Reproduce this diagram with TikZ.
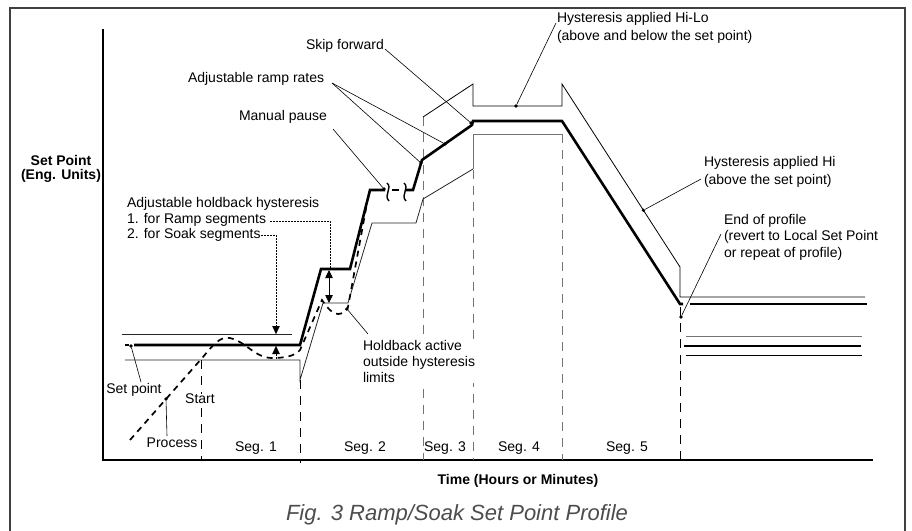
\documentclass[tikz,border=0pt]{standalone}
\usepackage{fontspec}
\setmainfont{Liberation Sans}
\usetikzlibrary{arrows.meta,calc}
\begin{document}
\begin{tikzpicture}[x=1pt,y=-1pt,
 every node/.style={inner sep=0pt, outer sep=0pt},
 lbl/.style={font=\fontsize{14}{16.5}\selectfont, align=left},
 blbl/.style={font=\fontsize{14}{14.5}\selectfont\bfseries, align=center},
 sp/.style={line width=2.6pt},
 hy/.style={line width=0.8pt},
 segb/.style={line width=1pt, dash pattern=on 9pt off 7pt},
 proc/.style={line width=1.7pt, dash pattern=on 6pt off 5pt},
 leader/.style={line width=0.6pt},
 dotm/.style={circle, fill, minimum size=3.6pt},
 hbd/.style={line width=0.8pt, dash pattern=on 1.6pt off 1.4pt},
 tip/.style={-{Triangle[length=8pt,width=7.5pt]}},
 dtip/.style={{Triangle[length=8pt,width=7.5pt]}-{Triangle[length=8pt,width=7.5pt]}},
]
\useasboundingbox (0,0) rectangle (912,530);
% frame
\draw[line width=1.2pt, black!75] (10,531) -- (10,8) -- (905,8) -- (905,531);
% axes
\draw[line width=2pt] (103,29) -- (103,460) -- (873,460);
% segment boundaries
\draw[segb] (201,360) -- (201,460);
\draw[segb] (300,380) -- (300,463);
\draw[segb, black!55] (423,117) -- (423,460);
\draw[segb, black!55] (473,170) -- (473,460);
\draw[segb, black!55] (562,134) -- (562,460);
\draw[segb] (680,307) -- (680,463);
% hysteresis lines
\draw[hy, black!85] (122,334) -- (292,334);
\draw[hy, black!85] (125,360) -- (300,360) -- (300,380) -- (323,303) -- (348,303) -- (372,223) -- (416,223) -- (423,199) -- (473,169);
\draw[hy, black!55] (473,169) -- (473,134) -- (562,134);
\draw[hy] (423,117) -- (473,84) -- (473,106) -- (562,106) -- (562,84) -- (680,267) -- (680,297) -- (865,297);
% set point profile
\draw[sp] (125,345) -- (129,345);
\draw[sp] (134,345) -- (300,345) -- (321,269) -- (350,269) -- (370,190) -- (385,190);
\draw[sp] (392,190) -- (399,190);
\draw[sp] (406,190) -- (413,190) -- (422,160) -- (472,125) -- (473,121) -- (562,121) -- (680,304) -- (683,304);
\draw[sp] (690,304) -- (867,304);
\draw[line width=1.4pt] (387,183) .. controls (393,188) and (383,195) .. (389,201);
\draw[line width=1.4pt] (404,183) .. controls (410,188) and (400,195) .. (406,201);
% local set point
\draw[hy, black!55] (686,336) -- (862,336);
\draw[sp] (684,346) -- (861,346);
\draw[hy] (686,355) -- (862,355);
% process
\draw[proc] (130,440) -- (203,357) .. controls (213,345) and (220,336) .. (230,338)
  .. controls (245,341) and (255,358) .. (272,358) .. controls (285,358) and (295,356) .. (300,350)
  -- (322,300) .. controls (328,309) and (333,314) .. (338,314) .. controls (342,314) and (345,312) .. (348,307)
  -- (367,203);
% holdback hysteresis arrows
\draw[hbd] (270,221) -- (330,221) -- (330,269);
\draw[line width=0.8pt, dtip] (329,270) -- (329,303);
\draw[hbd] (261,235) -- (276,235) -- (276,327);
\draw[tip, line width=0.1pt] (276,326) -- (276,334);
\draw[hbd] (276,359) -- (276,353);
\draw[tip, line width=0.1pt] (276,354) -- (276,346);
% dots
\node[dotm] (dsp) at (131,346) {};
\node[dotm] (dpr) at (166,399) {};
\node[dotm] (dhb) at (347,309) {};
\node[dotm] (dmp) at (384,189) {};
\node[dotm] (dr1) at (421,163) {};
\node[dotm] (dr2) at (445,144) {};
\node[dotm] (dsk) at (471,123) {};
\node[dotm] (dhl) at (516,106) {};
\node[dotm] (dhi) at ($(562,84)!0.69!(680,267)$) {};
\node[dotm] (dep) at (681,317) {};
% labels
\node[lbl, anchor=west] (skip) at (306,46) {Skip forward};
\node[lbl, anchor=west] (ramp) at (188,79) {Adjustable ramp rates};
\node[lbl, anchor=west] (pause) at (239,117) {Manual pause};
\node[lbl, anchor=west, font=\fontsize{14}{15.5}\selectfont] (hold) at (127,219.5) {Adjustable holdback hysteresis\\1. for Ramp segments\\2. for Soak segments};
\node[blbl] (ylab) at (61,169) {Set Point\\(Eng. Units)};
\node[lbl] (setp) at (134,390) {Set point};
\node[lbl, fill=white, inner sep=0.5pt] (start) at (200,399) {Start};
\node[lbl] (proc) at (172,443) {Process};
\node[lbl, anchor=west, fill=white, inner sep=1pt, font=\fontsize{14}{16}\selectfont] (hba) at (362,361) {Holdback active\\outside hysteresis\\limits};
\node[lbl] (s1) at (256,448) {Seg. 1};
\node[lbl] (s2) at (365,448) {Seg. 2};
\node[lbl] (s3) at (445,448) {Seg. 3};
\node[lbl] (s4) at (519,448) {Seg. 4};
\node[lbl] (s5) at (627,448) {Seg. 5};
\node[lbl, anchor=west, font=\fontsize{14}{17.5}\selectfont] (hilo) at (557,28) {Hysteresis applied Hi-Lo\\(above and below the set point)};
\node[lbl, anchor=west, font=\fontsize{14}{17.5}\selectfont] (hi) at (704,172) {Hysteresis applied Hi\\(above the set point)};
\node[lbl, anchor=west] (eop) at (724,237) {End of profile\\(revert to Local Set Point\\or repeat of profile)};
\node[blbl] (xlab) at (518,481) {Time (Hours or Minutes)};
\node[font=\fontsize{22}{26}\selectfont\itshape, text=black!70] (cap) at (457,515) {Fig. 3 Ramp/Soak Set Point Profile};
% leaders
\coordinate (lsp) at (141,382);
\coordinate (lpr) at (167,436);
\coordinate (lhb) at (368,334);
\coordinate (lmp) at (333,129);
\coordinate (lra) at (332,83);
\coordinate (lsk) at (385,49);
\coordinate (lhl) at (556,23);
\coordinate (lhi) at (701,179);
\coordinate (lep) at (721,234);
\draw[leader] (lsp) -- (dsp);
\draw[leader] (lpr) -- (dpr);
\draw[leader] (lhb) -- (dhb);
\draw[leader] (lmp) -- (dmp);
\draw[leader] (lra) -- (dr1);
\draw[leader] (lra) -- (dr2);
\draw[leader] (lsk) -- (dsk);
\draw[leader] (lhl) -- (dhl);
\draw[leader] (lhi) -- (dhi);
\draw[leader] (lep) -- (dep);
\end{tikzpicture}
\end{document}
